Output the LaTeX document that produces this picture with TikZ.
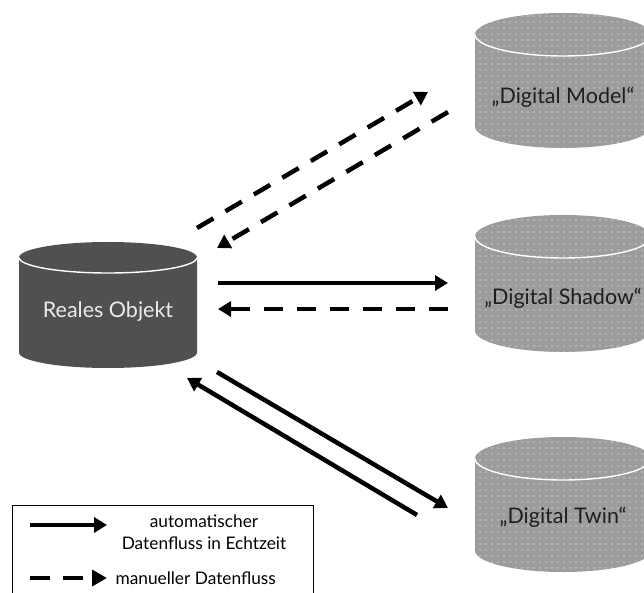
\documentclass[tikz,border=0pt]{standalone}
\usepackage{fontspec}
\setmainfont{Lato}
\usetikzlibrary{arrows.meta,calc,positioning,patterns.meta}

\definecolor{realgray}{HTML}{505050}
\definecolor{digigray}{HTML}{9C9C9C}
\definecolor{darktext}{HTML}{1E1E1E}

\tikzdeclarepattern{
    name=whitedots,
    type=uncolored,
    bottom left={(-1pt,-1pt)},
    top right={(1pt,1pt)},
    tile size={(6pt,6pt)},
    code={\fill (0pt,0pt) circle (0.7pt);}
}

\begin{document}
\begin{tikzpicture}[
        x=1pt,
        y=1pt,
        rim/.style={draw=white, line width=1.4pt},
        dblabel/.style={font=\fontsize{21.5}{23}\selectfont},
        flow/.style={line width=4.5pt, -{Triangle[length=13pt, width=15pt]}},
        manual/.style={flow, dash pattern=on 19pt off 14pt},
        legendtext/.style={font=\fontsize{17.3}{22}\selectfont},
        >=Latex
    ]
        \useasboundingbox (0,0) rectangle (644,592);

        % real object: centre x, top, bottom, radii
        \def\rx{89}\def\ry{15.5}
        \fill[realgray] (108-\rx,350-\ry) -- (108-\rx,224+\ry)
            arc[start angle=180, end angle=360, x radius=\rx, y radius=\ry]
            -- (108+\rx,350-\ry)
            arc[start angle=0, end angle=180, x radius=\rx, y radius=\ry] -- cycle;
        \draw[rim] (108-\rx,350-\ry) arc[start angle=180, end angle=360, x radius=\rx, y radius=\ry];
        \node[dblabel, text=white!92!black] (real) at (108,280) {Reales Objekt};

        % digital counterparts
        \def\rx{88}\def\ry{21.5}
        \foreach \top/\bot/\ty/\name/\lab in {
            579/444/495/model/{„Digital Model“},
            377/240/294/shadow/{„Digital Shadow“},
            155/20/75/twin/{„Digital Twin“}
        }{
            \path[fill=digigray, postaction={pattern=whitedots, pattern color=white}]
                (563-\rx,\top-\ry) -- (563-\rx,\bot+\ry)
                arc[start angle=180, end angle=360, x radius=\rx, y radius=\ry]
                -- (563+\rx,\top-\ry)
                arc[start angle=0, end angle=180, x radius=\rx, y radius=\ry] -- cycle;
            \draw[rim] (563-\rx,\top-\ry) arc[start angle=180, end angle=360, x radius=\rx, y radius=\ry];
            \node[dblabel, text=darktext] (\name) at (563,\ty) {\lab};
        }

        % end points of the flows
        \coordinate (m1) at (197,364);
        \coordinate (m2) at (428,500);
        \coordinate (m3) at (448,480);
        \coordinate (m4) at (217,344);
        \coordinate (s1) at (218,309);
        \coordinate (s2) at (448,309);
        \coordinate (s3) at (448,283);
        \coordinate (s4) at (218,283);
        \coordinate (t1) at (217,220);
        \coordinate (t2) at (448,84);
        \coordinate (t3) at (417,77);
        \coordinate (t4) at (187,214);

        \draw[manual] (m1) -- (m2);
        \draw[manual] (m3) -- (m4);
        \draw[flow] (s1) -- (s2);
        \draw[manual] (s3) -- (s4);
        \draw[flow] (t1) -- (t2);
        \draw[flow] (t3) -- (t4);

        % legend
        \draw[line width=1pt] (12,87) rectangle (313,-10);
        \coordinate (l1) at (30,67);
        \coordinate (l2) at (107,67);
        \coordinate (l3) at (30,14);
        \coordinate (l4) at (107,14);
        \draw[line width=4pt, -{Triangle[length=13pt, width=15pt]}] (l1) -- (l2);
        \draw[line width=4pt, dash pattern=on 20pt off 13pt, -{Triangle[length=15pt, width=16pt]}] (l3) -- (l4);
        \node[legendtext, align=center] (autolab) at (204,60) {automatischer\\Datenfluss in Echtzeit};
        \node[legendtext, anchor=west] (manlab) at (112,14) {manueller Datenfluss};
    \end{tikzpicture}
\end{document}
